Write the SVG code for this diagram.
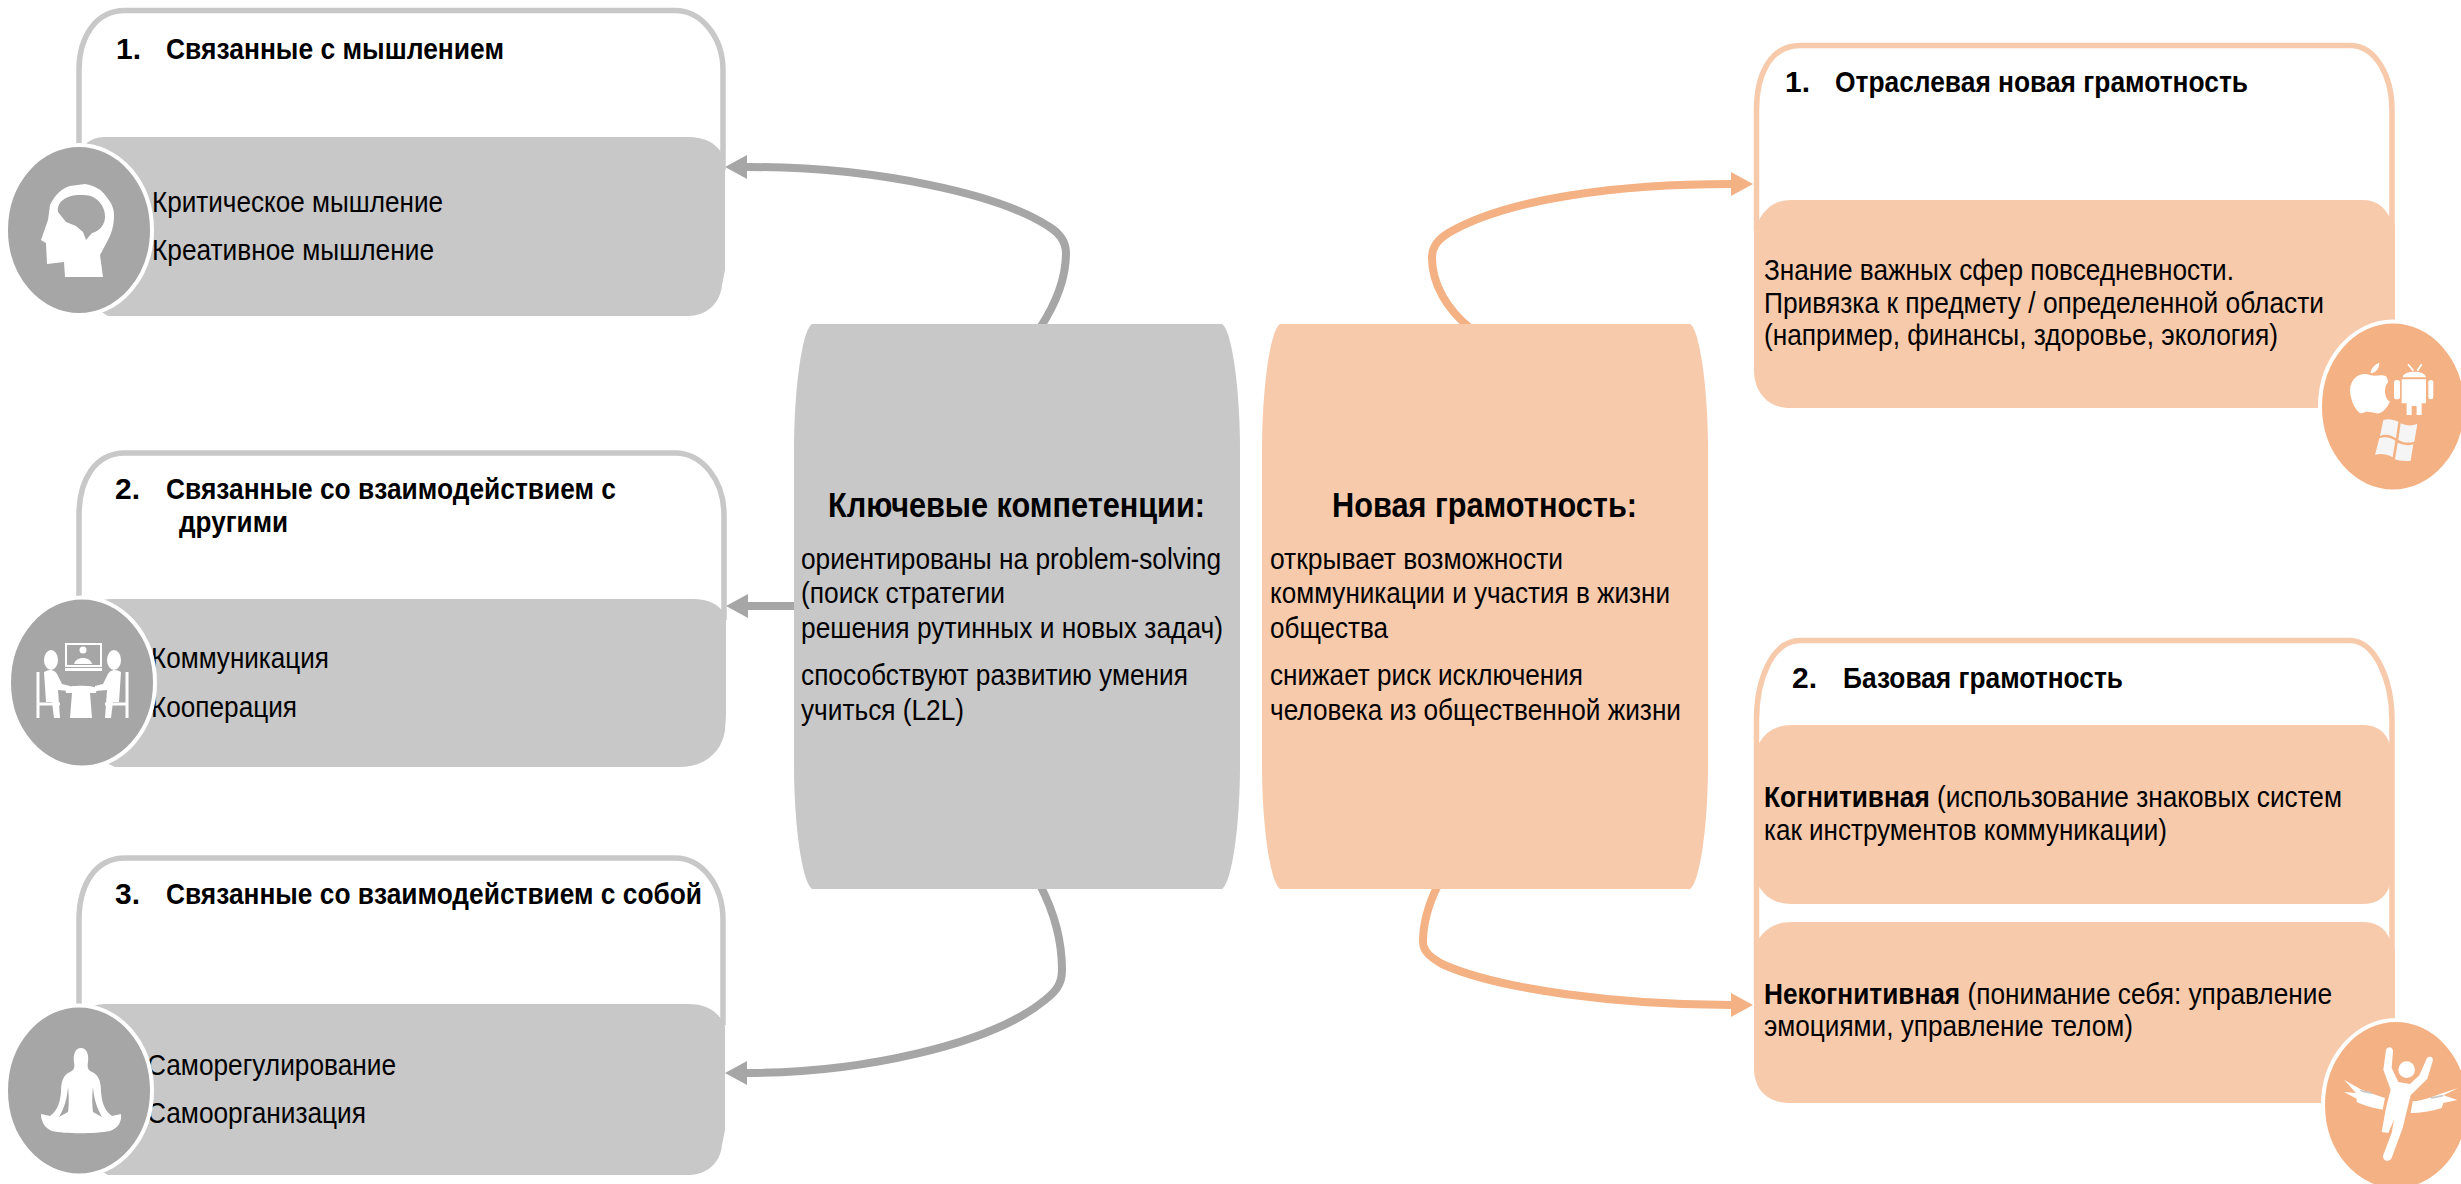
<svg xmlns="http://www.w3.org/2000/svg" width="2461" height="1184" viewBox="0 0 2461 1184">
<style>
text{font-family:"Liberation Sans",Arial,sans-serif;fill:#000;font-size:30px}
.t{font-weight:bold}
.h{font-weight:bold;font-size:35px}
.n{transform-box:fill-box}
.og{fill:none;stroke:#c8c8c8;stroke-width:5.5}
.oo{fill:none;stroke:#f7caac;stroke-width:5.5}
.bg{fill:#c8c8c8}
.bo{fill:#f7caac}
.eg{fill:#a6a6a6;stroke:#fff;stroke-width:4}
.eo{fill:#f4b183;stroke:#fff;stroke-width:4}
.i{fill:#fff}
.cg{fill:none;stroke:#a6a6a6;stroke-width:8;marker-end:url(#ag)}
.co{fill:none;stroke:#f4b183;stroke-width:8;marker-end:url(#ao)}
</style>
<defs>
<marker id="ag" viewBox="0 0 22 24" refX="0" refY="12" markerWidth="22" markerHeight="24" markerUnits="userSpaceOnUse" orient="auto"><path d="M0 0L22 12L0 24Z" fill="#a6a6a6"/></marker>
<marker id="ao" viewBox="0 0 22 24" refX="0" refY="12" markerWidth="22" markerHeight="24" markerUnits="userSpaceOnUse" orient="auto"><path d="M0 0L22 12L0 24Z" fill="#f4b183"/></marker>
</defs>
<g id="connectors">
<path class="cg" d="M1040 328C1055 305 1066 280 1066 253C1066 240 1058 232 1048 226C1000 195 880 167 747 167"/>
<path class="cg" d="M794 606H748"/>
<path class="cg" d="M1040 885C1053 910 1062 940 1062 970C1062 985 1055 992 1045 1000C990 1045 860 1073 747 1073"/>
<path class="co" d="M1470 328C1448 310 1432 285 1432 258C1432 245 1440 238 1450 232C1510 198 1620 184 1731 184"/>
<path class="co" d="M1438 885C1428 905 1423 925 1423 942C1423 952 1432 958 1442 964C1500 990 1620 1005 1731 1005"/>
</g>
<g id="group-thinking">
<path class="og" d="M79 170V70C79 38 95 10.500 125 10.500H675C702 10.500 723 38 723 70V170"/>
<path class="bg" d="M85 145Q92 137 105 137H688C705 137 716 143 723 155L725 160V270L722 285C720 305 705 316 688 316H108L90 305Z"/>
<text class="t" x="116" y="59">1.</text>
<text class="t" x="166" y="59" textLength="338" lengthAdjust="spacingAndGlyphs">Связанные с мышлением</text>
<text x="152" y="212" textLength="291" lengthAdjust="spacingAndGlyphs">Критическое мышление</text>
<text x="152" y="260" textLength="282" lengthAdjust="spacingAndGlyphs">Креативное мышление</text>
<ellipse class="eg" cx="79" cy="230" rx="73" ry="85"/>
<path class="i" d="M65 277L64 262L47 264L46 243L41 240L48 220L50 205C55 195 62 188 70 186L85 184C95 186 102 190 105 195C112 203 114 209 114 215C114 225 112 232 108 240L100 255L103 277Z"/>
<path class="eg" style="stroke:none" d="M58 212C56 200 70 194 82 195C98 194 106 208 105 218C104 228 96 232 92 233L86 240L83 232L76 226L66 222Z"/>
</g>
<g id="group-others">
<path class="og" d="M79 600V515C79 480 95 453 125 453H675C702 453 724 480 724 515V620"/>
<path class="bg" d="M95 605Q100 599 110 599H693C708 599 718 604 724 613L726 618V715L725 730C722 752 705 767 679 767H115L100 760Z"/>
<text class="t" x="115" y="499">2.</text>
<text class="t" x="166" y="499" textLength="450" lengthAdjust="spacingAndGlyphs">Связанные со взаимодействием с</text>
<text class="t" x="179" y="532" textLength="109" lengthAdjust="spacingAndGlyphs">другими</text>
<text x="151" y="668" textLength="178" lengthAdjust="spacingAndGlyphs">Коммуникация</text>
<text x="151" y="717" textLength="146" lengthAdjust="spacingAndGlyphs">Кооперация</text>
<ellipse class="eg" cx="82" cy="682.500" rx="73" ry="85"/>
<rect x="66" y="644" width="35" height="22" fill="none" stroke="#fff" stroke-width="2"/>
<rect class="i" x="65" y="668" width="37" height="3"/>
<circle class="i" cx="83" cy="650" r="3.500"/>
<path class="i" d="M74 664C76 656 90 656 92 664Z"/>
<path class="i" d="M65 688C70 685 92 685 97 688L96 693H90L92 718H70L72 693H66Z"/>
<g id="people">
<ellipse class="i" cx="51" cy="660" rx="7" ry="10"/>
<path class="i" d="M44 672C50 668 56 670 58 676L62 684L70 686V691L58 690L60 718H54L52 702H46Z"/>
<path d="M38 672V718M38 704H60" fill="none" stroke="#fff" stroke-width="3"/>
<ellipse class="i" cx="114" cy="660" rx="7" ry="10"/>
<path class="i" d="M121 672C115 668 109 670 107 676L103 684L95 686V691L107 690L105 718H111L113 702H119Z"/>
<path d="M127 672V718M127 704H105" fill="none" stroke="#fff" stroke-width="3"/>
</g>
</g>
<g id="group-self">
<path class="og" d="M79 1010V920C79 885 95 858 125 858H675C702 858 723 885 723 920V1025"/>
<path class="bg" d="M85 1012Q92 1004 105 1004H688C705 1004 716 1010 723 1022L725 1026V1130L722 1145C720 1165 705 1175 688 1175H108L90 1165Z"/>
<text class="t" x="115" y="904">3.</text>
<text class="t" x="166" y="904" textLength="536" lengthAdjust="spacingAndGlyphs">Связанные со взаимодействием с собой</text>
<text x="147" y="1075" textLength="249" lengthAdjust="spacingAndGlyphs">Саморегулирование</text>
<text x="147" y="1123" textLength="219" lengthAdjust="spacingAndGlyphs">Самоорганизация</text>
<ellipse class="eg" cx="79" cy="1090.500" rx="73" ry="85"/>
<path class="i" d="M81 1048C87 1048 89 1055 88 1062C87 1068 88 1070 92 1072C99 1075 101 1082 101 1092C102 1102 104 1110 112 1116L121 1114C122 1122 118 1128 110 1131C95 1134 65 1134 52 1131C45 1128 41 1122 41 1114L50 1116C58 1110 60 1102 61 1092C61 1082 63 1075 70 1072C74 1070 75 1068 74 1062C73 1055 75 1048 81 1048Z"/>
<path class="eg" style="stroke:none" d="M68 1087C67 1100 64 1108 59 1117L68 1112C69 1105 69 1095 68 1087ZM93 1087C94 1100 97 1108 102 1117L93 1112C92 1105 92 1095 93 1087Z"/>
</g>
<g id="competencies">
<path class="bg" d="M812 324H1222C1232 330 1240 390 1240 450V765C1240 825 1232 882 1222 889H812C802 882 794 825 794 765V450C794 390 802 330 812 324Z"/>
<text class="h" x="828" y="517" textLength="377" lengthAdjust="spacingAndGlyphs">Ключевые компетенции:</text>
<text x="801" y="569" textLength="420" lengthAdjust="spacingAndGlyphs">ориентированы на problem-solving</text>
<text x="801" y="603" textLength="204" lengthAdjust="spacingAndGlyphs">(поиск стратегии</text>
<text x="801" y="638" textLength="422" lengthAdjust="spacingAndGlyphs">решения рутинных и новых задач)</text>
<text x="801" y="685" textLength="387" lengthAdjust="spacingAndGlyphs">способствуют развитию умения</text>
<text x="801" y="720" textLength="163" lengthAdjust="spacingAndGlyphs">учиться (L2L)</text>
</g>
<g id="new-literacy">
<path class="bo" d="M1280 324H1690C1700 330 1708 390 1708 450V765C1708 825 1700 882 1690 889H1280C1270 882 1262 825 1262 765V450C1262 390 1270 330 1280 324Z"/>
<text class="h" x="1332" y="517" textLength="305" lengthAdjust="spacingAndGlyphs">Новая грамотность:</text>
<text x="1270" y="569" textLength="293" lengthAdjust="spacingAndGlyphs">открывает возможности</text>
<text x="1270" y="603" textLength="400" lengthAdjust="spacingAndGlyphs">коммуникации и участия в жизни</text>
<text x="1270" y="638" textLength="118" lengthAdjust="spacingAndGlyphs">общества</text>
<text x="1270" y="685" textLength="313" lengthAdjust="spacingAndGlyphs">снижает риск исключения</text>
<text x="1270" y="720" textLength="411" lengthAdjust="spacingAndGlyphs">человека из общественной жизни</text>
</g>
<g id="sector-literacy">
<path class="oo" d="M1756.500 230V110C1756.500 75 1770 45.500 1800 45.500H2350C2375 45.500 2392 75 2392 110V230"/>
<path class="bo" d="M1758 222C1765 208 1775 200 1792 200H2362C2378 200 2386 208 2392 222L2395 225V370H2360V408H1790C1768 408 1754 392 1754 370V230Z"/>
<text class="t" x="1785" y="92">1.</text>
<text class="t" x="1835" y="92" textLength="413" lengthAdjust="spacingAndGlyphs">Отраслевая новая грамотность</text>
<text x="1764" y="280" textLength="470" lengthAdjust="spacingAndGlyphs">Знание важных сфер повседневности.</text>
<text x="1764" y="313" textLength="560" lengthAdjust="spacingAndGlyphs">Привязка к предмету / определенной области</text>
<text x="1764" y="345" textLength="514" lengthAdjust="spacingAndGlyphs">(например, финансы, здоровье, экология)</text>
<ellipse class="eo" cx="2393" cy="406.500" rx="73" ry="85"/>
<g transform="translate(2320 320) scale(.3333)">
<path class="i" d="M150 165C170 172 180 160 200 170L205 185C190 200 192 235 210 245C200 265 185 282 170 280C150 275 140 272 125 280C110 280 90 240 90 210C92 170 125 155 150 165ZM152 160C152 145 165 132 178 128C178 145 168 158 152 160Z"/>
<path class="i" d="M245 178H318V250H305V285H290V258H275V285H260V250H245ZM248 172C250 150 315 150 318 172Z"/>
<rect class="i" x="222" y="180" width="18" height="58" rx="8"/>
<rect class="i" x="325" y="180" width="15" height="58" rx="7"/>
<path d="M264 133L280 152M305 133L292 152" stroke="#fff" stroke-width="5" fill="none"/>
<path fill="#f5f5f5" d="M190 300C205 295 220 298 235 305L228 355C215 345 195 340 180 348ZM242 310C260 318 275 318 292 312L283 365C265 370 250 368 235 360ZM178 355C195 348 212 352 226 362L218 412C200 402 180 400 165 405ZM233 368C250 375 265 378 280 373L272 422C255 425 235 422 225 418Z"/>
</g>
</g>
<g id="basic-literacy">
<path class="oo" d="M1756.500 1000V720C1756.500 680 1772 640.500 1800 640.500H2350C2375 640.500 2392 680 2392 720V1000"/>
<path class="bo" d="M1758 745C1765 732 1775 725 1792 725H2362C2378 725 2386 732 2390 745V885C2386 897 2378 904 2362 904H1792C1775 904 1765 897 1758 885Z"/>
<path class="bo" d="M1758 940C1765 929 1775 922 1792 922H2362C2378 922 2386 929 2390 940L2395 950V1060H2360V1103H1790C1768 1103 1754 1090 1754 1068V945Z"/>
<text class="t" x="1792" y="688">2.</text>
<text class="t" x="1843" y="688" textLength="280" lengthAdjust="spacingAndGlyphs">Базовая грамотность</text>
<text x="1764" y="807" textLength="578" lengthAdjust="spacingAndGlyphs"><tspan class="t">Когнитивная</tspan> (использование знаковых систем</text>
<text x="1764" y="840" textLength="403" lengthAdjust="spacingAndGlyphs">как инструментов коммуникации)</text>
<text x="1764" y="1004" textLength="568" lengthAdjust="spacingAndGlyphs"><tspan class="t">Некогнитивная</tspan> (понимание себя: управление</text>
<text x="1764" y="1036" textLength="369" lengthAdjust="spacingAndGlyphs">эмоциями, управление телом)</text>
<ellipse class="eo" cx="2396" cy="1105" rx="73" ry="85"/>
<g transform="translate(2320 1018) scale(.3333)">
<circle class="i" cx="260" cy="155" r="25"/>
<path class="i" d="M198 95C205 82 220 88 219 100L215 150L235 192L270 198L298 172L320 122C328 110 342 118 338 130L322 182L272 232L248 330L215 420C208 435 185 428 190 410L215 345L222 305L205 345L185 342L198 270L212 215L190 155Z"/>
<path class="i" d="M72 185L125 215C150 225 175 232 195 240L188 275C160 270 130 262 110 252V242L72 222L108 225ZM415 210L370 232L412 246L370 255L365 270C335 280 300 285 272 285L278 250C310 248 340 235 360 228Z"/>
<path fill="#c8c8c8" d="M118 215L155 222V228L125 222ZM330 238L370 230L368 236L335 242Z"/>
</g>
</g>
</svg>
